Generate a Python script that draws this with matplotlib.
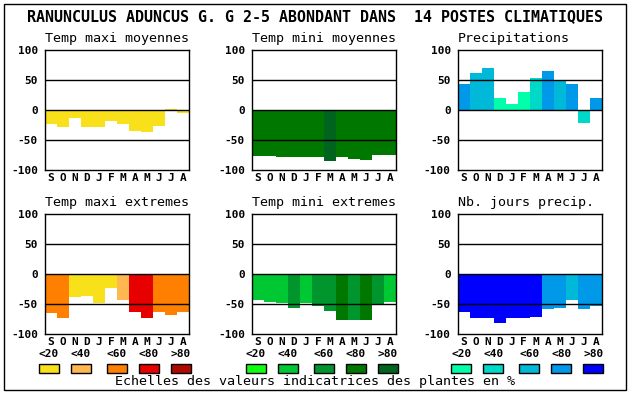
import matplotlib
matplotlib.use("Agg")
import matplotlib.pyplot as plt
from matplotlib.patches import Rectangle

months = ["S", "O", "N", "D", "J", "F", "M", "A", "M", "J", "J", "A"]
class_labels = ["<20", "<40", "<60", "<80", ">80"]

title = "RANUNCULUS ADUNCUS G. G 2-5 ABONDANT DANS  14 POSTES CLIMATIQUES"
footer = "Echelles des valeurs indicatrices des plantes en %"

panel_titles = ["Temp maxi moyennes", "Temp mini moyennes", "Precipitations",
                "Temp maxi extremes", "Temp mini extremes", "Nb. jours precip."]

# values (%) per month
tmax_moy = [-23, -28, -13, -28, -28, -18, -23, -35, -37, -27, 2, -5]
tmin_moy = [-76, -76, -78, -78, -78, -78, -85, -78, -81, -83, -75, -75]
precip = [43, 62, 70, 20, 10, 30, 53, 65, 48, 43, -21, 20]
tmax_ext = [-65, -73, -38, -36, -49, -24, -44, -64, -73, -64, -68, -64]
tmin_ext = [-44, -47, -49, -57, -49, -54, -62, -76, -77, -76, -52, -47]
nb_jours = [-64, -74, -74, -81, -74, -73, -71, -58, -56, -43, -58, -54]

# class index (0: <20 ... 4: >80) per month
tmax_moy_cls = [0] * 12
tmin_moy_cls = [3, 3, 3, 3, 3, 3, 4, 3, 3, 3, 3, 3]
precip_cls = [3, 2, 2, 0, 0, 0, 1, 3, 2, 3, 1, 3]
tmax_ext_cls = [2, 2, 0, 0, 0, 0, 1, 3, 3, 2, 2, 2]
tmin_ext_cls = [1, 1, 1, 2, 1, 2, 2, 3, 2, 3, 2, 1]
nb_jours_cls = [4, 4, 4, 4, 4, 4, 4, 3, 3, 2, 3, 3]

warm = ["#f8e11a", "#ffb850", "#ff8000", "#e60000", "#b00a00"]
green = ["#10ff10", "#00c832", "#00962d", "#007800", "#00641e"]
blue = ["#00ffaa", "#00d8c8", "#00b8d8", "#0098e8", "#0000ff"]

panels = [
    (tmax_moy, tmax_moy_cls, warm),
    (tmin_moy, tmin_moy_cls, green),
    (precip, precip_cls, blue),
    (tmax_ext, tmax_ext_cls, warm),
    (tmin_ext, tmin_ext_cls, green),
    (nb_jours, nb_jours_cls, blue),
]

W, H = 630, 394
fig = plt.figure(figsize=(W / 100, H / 100), dpi=100)
fig.patch.set_facecolor("white")

mono = "DejaVu Sans Mono"

# overlay in pixel coordinates
ov = fig.add_axes([0, 0, 1, 1], zorder=0)
ov.set_xlim(0, W)
ov.set_ylim(H, 0)
ov.axis("off")
ov.add_patch(Rectangle((4, 4), 622, 386, fill=False, edgecolor="black", lw=1.0))
ov.text(315, 17, title, ha="center", va="center", family=mono,
        fontsize=10.8, fontweight="bold")
ov.text(315, 382, footer, ha="center", va="center", family=mono, fontsize=9.6)

col_x = [45, 252, 457.7]
row_y = [50, 214]
aw, ah = 144, 120

for i, (vals, cls, pal) in enumerate(panels):
    r, c = divmod(i, 3)
    x0, y0 = col_x[c], row_y[r]
    ax = fig.add_axes([x0 / W, 1 - (y0 + ah) / H, aw / W, ah / H], zorder=2)
    colors = [pal[k] for k in cls]
    ax.bar(range(12), vals, width=1.0, color=colors, linewidth=0, zorder=1)
    for yv in (50, 0, -50):
        ax.axhline(yv, color="black", lw=1.0, zorder=3)
    ax.set_xlim(-0.5, 11.5)
    ax.set_ylim(-100, 100)
    ax.set_yticks([-100, -50, 0, 50, 100])
    ax.set_yticklabels(["-100", "-50", "0", "50", "100"], family=mono,
                       fontweight="bold", fontsize=8)
    ax.set_xticks(range(12))
    ax.set_xticklabels(months, family=mono, fontweight="bold", fontsize=8)
    ax.tick_params(length=0)
    ax.tick_params(axis="y", pad=5)
    ax.tick_params(axis="x", pad=2)
    for s in ax.spines.values():
        s.set_linewidth(1.0)
    ov.text(x0, y0 - 12, panel_titles[i], ha="left", va="center",
            family=mono, fontsize=9.6)

# legend swatches
offsets = [-6.5, 25.5, 61.5, 93.5, 125.5]
for c, pal in enumerate([warm, green, blue]):
    x0 = col_x[c]
    for k in range(5):
        sx = x0 + offsets[k]
        ov.add_patch(Rectangle((sx, 364), 20, 9, facecolor=pal[k],
                               edgecolor="black", lw=1.0))
        ov.text(sx + 10, 354, class_labels[k], ha="center", va="center",
                family=mono, fontsize=8, fontweight="bold")

fig.savefig("out.png", dpi=100, facecolor="white")
